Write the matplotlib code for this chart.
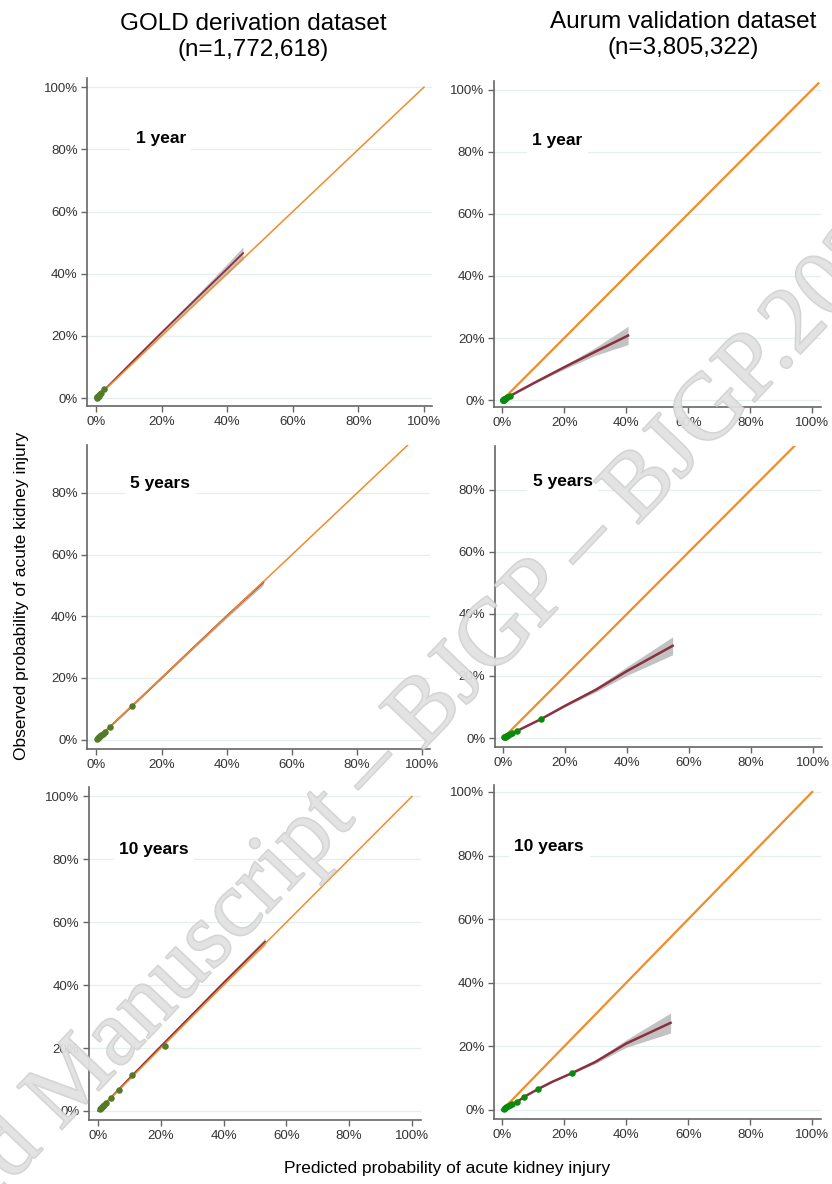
import matplotlib
matplotlib.use("Agg")
import matplotlib.pyplot as plt
import matplotlib.patheffects as pe

plt.rcParams['font.family'] = ['Liberation Sans', 'DejaVu Sans']

# --- data (percent) -------------------------------------------------------
datasets = ['GOLD derivation dataset\n(n=1,772,618)',
            'Aurum validation dataset\n(n=3,805,322)']
horizons = ['1 year', '5 years', '10 years']

# decile points: predicted vs observed
gold_1y_pred = [0.1, 0.2, 0.3, 0.4, 0.5, 0.7, 0.9, 1.2, 1.6, 2.4]
gold_1y_obs = [0.1, 0.2, 0.3, 0.4, 0.5, 0.7, 0.9, 1.3, 1.7, 2.8]
aurum_1y_pred = [0.1, 0.2, 0.3, 0.4, 0.5, 0.7, 0.9, 1.2, 1.6, 2.6]
aurum_1y_obs = [0.05, 0.1, 0.15, 0.2, 0.3, 0.4, 0.5, 0.7, 0.9, 1.4]
gold_5y_pred = [0.3, 0.5, 0.7, 0.9, 1.2, 1.5, 1.9, 2.5, 4.2, 11.0]
gold_5y_obs = [0.3, 0.5, 0.7, 0.9, 1.2, 1.5, 1.9, 2.4, 4.2, 11.0]
aurum_5y_pred = [0.3, 0.5, 0.7, 1.0, 1.3, 1.7, 2.2, 2.9, 4.5, 12.2]
aurum_5y_obs = [0.2, 0.3, 0.4, 0.55, 0.7, 0.9, 1.2, 1.6, 2.3, 6.1]
gold_10y_pred = [0.5, 0.8, 1.1, 1.5, 2.0, 2.6, 4.1, 6.7, 10.8, 21.3]
gold_10y_obs = [0.5, 0.8, 1.1, 1.5, 2.0, 2.5, 4.1, 6.7, 11.3, 20.7]
aurum_10y_pred = [0.5, 0.9, 1.3, 1.8, 2.4, 3.2, 4.8, 7.0, 11.6, 22.5]
aurum_10y_obs = [0.3, 0.5, 0.8, 1.1, 1.5, 1.9, 2.5, 4.1, 6.6, 11.6]

# smoothed calibration curve with 95% CI
gold_1y_sx = [0, 5, 10, 20, 30, 40, 44.8]
gold_1y_fit = [0, 5.3, 10.6, 21.1, 31.4, 41.6, 46.6]
gold_1y_lo = [0, 5.2, 10.4, 20.6, 30.5, 40.0, 44.6]
gold_1y_hi = [0, 5.4, 10.8, 21.6, 32.3, 43.2, 48.6]

aurum_1y_sx = [0, 2.6, 10, 20, 30, 40.6]
aurum_1y_fit = [0, 1.4, 5.4, 10.6, 15.6, 20.8]
aurum_1y_lo = [0, 1.35, 5.2, 10.0, 14.4, 17.9]
aurum_1y_hi = [0, 1.45, 5.6, 11.2, 16.9, 23.8]

gold_5y_sx = [0, 10, 20, 30, 40, 51.2]
gold_5y_fit = [0, 10, 20, 30.1, 40.1, 51.0]
gold_5y_lo = [0, 9.9, 19.8, 29.7, 39.5, 50.1]
gold_5y_hi = [0, 10.1, 20.2, 30.5, 40.7, 51.9]

aurum_5y_sx = [0, 4.5, 12.2, 20, 30, 40, 54.7]
aurum_5y_fit = [0, 2.3, 6.1, 10.4, 15.6, 21.6, 29.7]
aurum_5y_lo = [0, 2.25, 6.0, 10.1, 14.9, 20.2, 26.8]
aurum_5y_hi = [0, 2.35, 6.2, 10.7, 16.3, 23.0, 32.6]

gold_10y_sx = [0, 10, 20, 30, 40, 53.2]
gold_10y_fit = [0, 10.4, 20.6, 30.7, 40.8, 53.8]
gold_10y_lo = [0, 10.2, 20.3, 30.2, 40.1, 52.6]
gold_10y_hi = [0, 10.6, 20.9, 31.2, 41.5, 55.0]

aurum_10y_sx = [0, 3.2, 4.8, 7.0, 11.6, 16, 22.5, 30, 40, 54.3]
aurum_10y_fit = [0, 1.9, 2.5, 4.1, 6.6, 8.8, 11.6, 15.1, 20.9, 27.4]
aurum_10y_lo = [0, 1.9, 2.5, 4.1, 6.55, 8.7, 11.4, 14.6, 19.7, 24.2]
aurum_10y_hi = [0, 1.9, 2.5, 4.1, 6.65, 8.9, 11.8, 15.6, 22.1, 30.5]

panels = [
    (gold_1y_pred, gold_1y_obs, gold_1y_sx, gold_1y_fit, gold_1y_lo, gold_1y_hi),
    (aurum_1y_pred, aurum_1y_obs, aurum_1y_sx, aurum_1y_fit, aurum_1y_lo, aurum_1y_hi),
    (gold_5y_pred, gold_5y_obs, gold_5y_sx, gold_5y_fit, gold_5y_lo, gold_5y_hi),
    (aurum_5y_pred, aurum_5y_obs, aurum_5y_sx, aurum_5y_fit, aurum_5y_lo, aurum_5y_hi),
    (gold_10y_pred, gold_10y_obs, gold_10y_sx, gold_10y_fit, gold_10y_lo, gold_10y_hi),
    (aurum_10y_pred, aurum_10y_obs, aurum_10y_sx, aurum_10y_fit, aurum_10y_lo, aurum_10y_hi),
]

# --- layout ---------------------------------------------------------------
rects = [
    [0.105, 0.657, 0.414, 0.277],
    [0.594, 0.656, 0.393, 0.276],
    [0.105, 0.367, 0.412, 0.257],
    [0.595, 0.369, 0.393, 0.254],
    [0.107, 0.054, 0.399, 0.281],
    [0.594, 0.055, 0.393, 0.282],
]
ylims = [(-2.6, 102.9), (-2.3, 102.9), (-3.2, 95.5),
         (-2.9, 93.9), (-2.9, 102.9), (-2.8, 102.2)]
xlims = [(-2.7, 102.4), (-2.6, 102.9), (-2.8, 102.4),
         (-2.6, 102.9), (-2.9, 102.9), (-2.6, 102.9)]
label_pos = [(12, 83.5), (9.7, 83.6), (10.4, 83), (9.6, 82.6), (6.7, 83), (3.9, 83)]
diag_end = [100, 102, 100, 100, 100, 100]

fig = plt.figure(figsize=(8.32, 11.84), dpi=100)

for i, (pred, obs, sx, fit, lo, hi) in enumerate(panels):
    ax = fig.add_axes(rects[i])
    left = i % 2 == 0
    lw = 1.1 if left else 1.6
    dot_col = '#557a27' if left else '#0a8a0a'

    ax.fill_between(sx, lo, hi, color='#9a9a9a', alpha=0.6, lw=0, zorder=2)
    ax.plot(sx, fit, color='#8a3040', lw=lw + 0.2, zorder=3)
    ax.plot([0, diag_end[i]], [0, diag_end[i]], color='#f28c28', lw=lw, zorder=4)
    ax.scatter(pred, obs, s=22, color=dot_col, zorder=5, lw=0)

    ax.set_xlim(*xlims[i])
    ax.set_ylim(*ylims[i])
    ticks = [0, 20, 40, 60, 80, 100]
    ax.set_xticks(ticks)
    ax.set_xticklabels([f'{t}%' for t in ticks])
    yt = [t for t in ticks if t <= ylims[i][1]]
    ax.set_yticks(yt)
    ax.set_yticklabels([f'{t}%' for t in yt])
    ax.grid(axis='y', color='#e6eff0', lw=0.9)
    ax.set_axisbelow(True)
    for s in ['top', 'right']:
        ax.spines[s].set_visible(False)
    for s in ['left', 'bottom']:
        ax.spines[s].set_color('#666666')
        ax.spines[s].set_linewidth(1.2)
    ax.tick_params(length=4, width=1, color='#666666', labelcolor='#333333',
                   labelsize=9.5, pad=3)

    lx, ly = label_pos[i]
    ax.text(lx, ly, horizons[i // 2], fontsize=12.5, fontweight='bold',
            va='center', ha='left', zorder=6,
            bbox=dict(facecolor='white', edgecolor='none', pad=4))

fig.text(253 / 832, 1 - 37 / 1184, datasets[0], ha='center', va='center',
         fontsize=17.5, linespacing=1.25)
fig.text(683 / 832, 1 - 35 / 1184, datasets[1], ha='center', va='center',
         fontsize=17.5, linespacing=1.25)
fig.text(0.026, 0.497, 'Observed probability of acute kidney injury',
         rotation=90, ha='center', va='center', fontsize=12.5)
fig.text(0.537, 0.0135, 'Predicted probability of acute kidney injury',
         ha='center', va='center', fontsize=12.5)

# watermark running diagonally across the page
fig.text(-0.243, -0.188, 'Accepted Manuscript \u2013 BJGP \u2013 BJGP.2021',
         rotation=46.4, rotation_mode='anchor', ha='left', va='baseline',
         fontsize=68, family='Liberation Serif', color='#e2e2e2', alpha=0.75,
         zorder=10,
         path_effects=[pe.withStroke(linewidth=1.5, foreground='#c4c4c4')])

fig.savefig('out.png', dpi=100)
